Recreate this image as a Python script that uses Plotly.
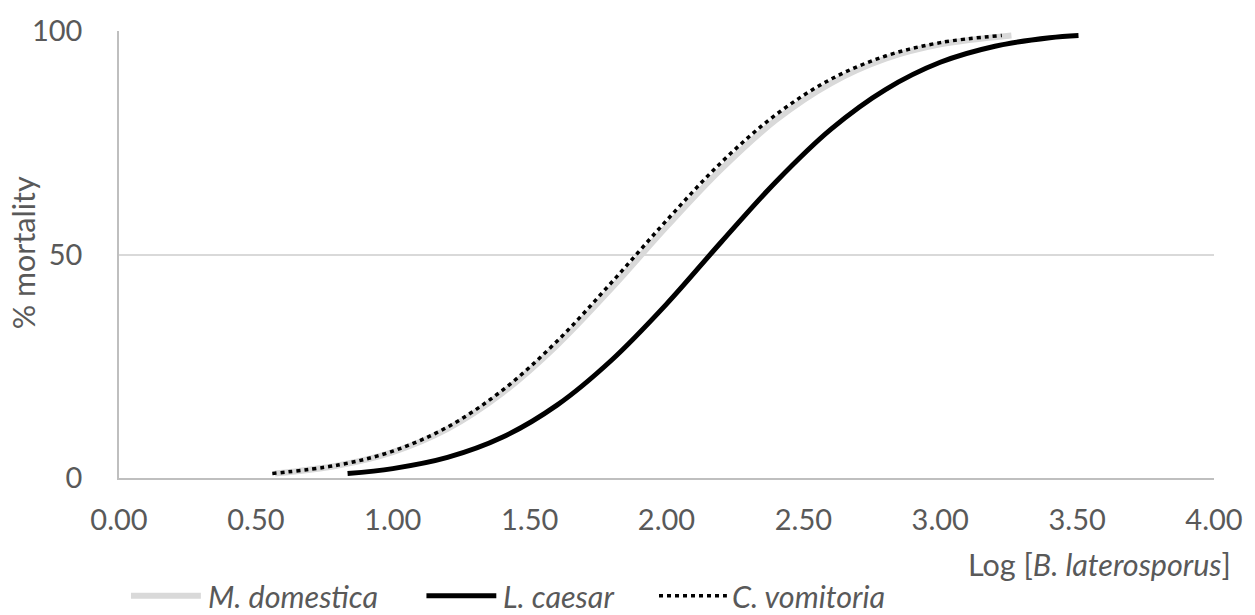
import plotly.graph_objects as go

# Data
x_domestica = [0.57, 0.8, 1.0, 1.2, 1.4, 1.6, 1.8, 2.0, 2.2, 2.4, 2.6, 2.8, 3.0, 3.26]
y_domestica = [1.0, 2.8, 5.8, 11.0, 19.0, 29.7, 42.5, 56.2, 69.1, 80.1, 88.3, 93.8, 97.0, 99.0]

x_caesar = [0.835, 1.0, 1.2, 1.4, 1.6, 1.8, 2.0, 2.2, 2.4, 2.6, 2.8, 3.0, 3.2, 3.4, 3.505]
y_caesar = [1.0, 2.1, 4.6, 9.1, 16.3, 26.4, 38.9, 52.8, 66.3, 78.0, 86.9, 93.0, 96.6, 98.5, 99.0]

x_vomitoria = [0.56, 0.8, 1.0, 1.2, 1.4, 1.6, 1.8, 2.0, 2.2, 2.4, 2.6, 2.8, 3.0, 3.225]
y_vomitoria = [1.0, 2.9, 6.0, 11.4, 19.6, 30.6, 43.8, 57.6, 70.6, 81.3, 89.2, 94.4, 97.4, 99.0]

x_ticks = [0, 0.5, 1.0, 1.5, 2.0, 2.5, 3.0, 3.5, 4.0]
x_ticklabels = ["0.00", "0.50", "1.00", "1.50", "2.00", "2.50", "3.00", "3.50", "4.00"]
y_ticks = [0, 50, 100]

FONT = "Lato"
TXT = "#595959"
TICK_SIZE = 29
TEXT_SIZE = 30.5
DOT = "4px,4px"

fig = go.Figure()
fig.add_trace(go.Scatter(x=x_domestica, y=y_domestica, mode="lines", name="M. domestica",
                         line=dict(color="#d9d9d9", width=6, shape="spline")))
fig.add_trace(go.Scatter(x=x_caesar, y=y_caesar, mode="lines", name="L. caesar",
                         line=dict(color="#000000", width=5, shape="spline")))
fig.add_trace(go.Scatter(x=x_vomitoria, y=y_vomitoria, mode="lines", name="C. vomitoria",
                         line=dict(color="#000000", width=3.5, dash=DOT, shape="spline")))

fig.update_layout(
    width=1255, height=615,
    margin=dict(l=119, r=39, t=25, b=137),
    paper_bgcolor="white", plot_bgcolor="white",
    showlegend=False,
    font=dict(family=FONT, size=TICK_SIZE, color=TXT),
    xaxis=dict(range=[0, 4], tickvals=x_ticks, ticktext=x_ticklabels,
               showgrid=False, zeroline=False, showline=True, linecolor="#bfbfbf", linewidth=1.5,
               ticks="", ticklabelstandoff=15, tickfont=dict(size=TICK_SIZE, color=TXT)),
    yaxis=dict(range=[0, 100], tickvals=y_ticks, showgrid=True, gridcolor="#d9d9d9", gridwidth=1.5,
               zeroline=False, showline=True, linecolor="#bfbfbf", linewidth=1.5,
               ticks="", ticklabelstandoff=29, tickfont=dict(size=TICK_SIZE, color=TXT)),
)

# axis titles
fig.add_annotation(text="Log [<i>B. laterosporus</i>]", xref="paper", yref="paper",
                   x=(1235 - 119) / 1097, y=-(565 - 477.7) / 452.7, xanchor="right", yanchor="middle",
                   showarrow=False, font=dict(size=TEXT_SIZE, color=TXT))
fig.add_annotation(text="% mortality", xref="paper", yref="paper",
                   x=-(119 - 23) / 1097, y=(477.7 - 250) / 452.7, xanchor="center", yanchor="middle",
                   textangle=-90, showarrow=False, font=dict(size=TEXT_SIZE, color=TXT))

# manual legend (paper coordinates)
def px_x(p):
    return (p - 119) / 1097

def px_y(p):
    return (477.7 - p) / 452.7

leg_y = 597
legend_items = [
    (131, 201, dict(color="#d9d9d9", width=6), "M. domestica", 206),
    (427, 497, dict(color="#000000", width=5), "L. caesar", 502),
    (660, 728, dict(color="#000000", width=3.5, dash=DOT), "C. vomitoria", 731),
]
for x0, x1, ln, label, tx in legend_items:
    fig.add_shape(type="line", xref="paper", yref="paper", x0=px_x(x0), x1=px_x(x1),
                  y0=px_y(leg_y), y1=px_y(leg_y), line=ln)
    fig.add_annotation(text="<i>" + label + "</i>", xref="paper", yref="paper",
                       x=px_x(tx), y=px_y(leg_y), xanchor="left", yanchor="middle",
                       showarrow=False, font=dict(size=TEXT_SIZE, color=TXT))

fig.write_html("out.html")
